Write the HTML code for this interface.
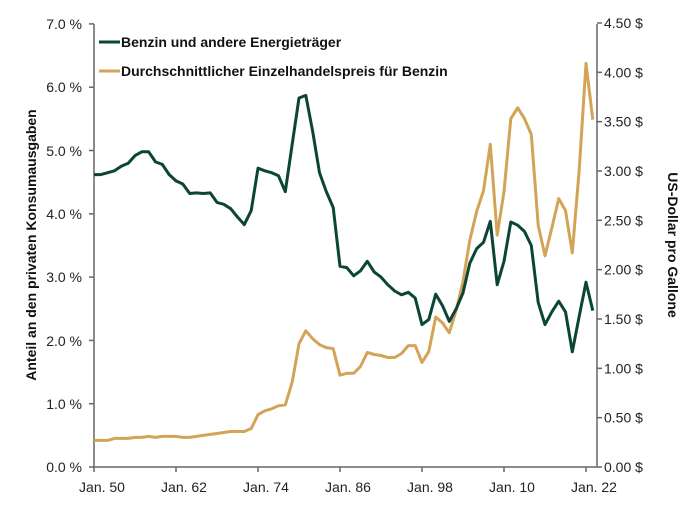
<!DOCTYPE html>
<html><head><meta charset="utf-8"><style>
body{margin:0;background:#fff;}
svg text{font-family:"Liberation Sans",Arial,sans-serif;}
</style></head><body>
<svg id="c" width="698" height="506" xmlns="http://www.w3.org/2000/svg">
<g font-size="14" fill="#222">
<text x="82" y="29" text-anchor="end">7.0 %</text>
<text x="82" y="92" text-anchor="end">6.0 %</text>
<text x="82" y="156" text-anchor="end">5.0 %</text>
<text x="82" y="219" text-anchor="end">4.0 %</text>
<text x="82" y="282" text-anchor="end">3.0 %</text>
<text x="82" y="346" text-anchor="end">2.0 %</text>
<text x="82" y="409" text-anchor="end">1.0 %</text>
<text x="82" y="472" text-anchor="end">0.0 %</text>
</g>
<g font-size="14" fill="#222" id="rl"></g>
<g font-size="14" fill="#222" id="xl"></g>
<text transform="translate(36,245) rotate(-90)" text-anchor="middle" font-size="14" font-weight="bold" fill="#111">Anteil an den privaten Konsumausgaben</text>
<text transform="translate(668,245) rotate(90)" text-anchor="middle" font-size="14" font-weight="bold" fill="#111">US-Dollar pro Gallone</text>
<g stroke="#666" stroke-width="1.5" fill="none" id="ax">
<line x1="94" y1="24" x2="94" y2="467"/>
<line x1="597" y1="24" x2="597" y2="467"/>
<line x1="94" y1="467" x2="597" y2="467"/>
</g>
<polyline id="gold" fill="none" stroke="#d3a458" stroke-width="3" stroke-linejoin="round"/>
<polyline id="green" fill="none" stroke="#0b4535" stroke-width="3" stroke-linejoin="round"/>
<line x1="99" y1="42" x2="120" y2="42" stroke="#0b4535" stroke-width="3"/>
<text x="121" y="47" font-size="14" font-weight="bold" fill="#111">Benzin und andere Energieträger</text>
<line x1="99" y1="71" x2="120" y2="71" stroke="#d3a458" stroke-width="3"/>
<text x="121" y="76" font-size="14" font-weight="bold" fill="#111">Durchschnittlicher Einzelhandelspreis für Benzin</text>
</svg>
<script>
var g=[4.62,4.62,4.65,4.68,4.75,4.8,4.92,4.98,4.98,4.82,4.78,4.62,4.52,4.47,4.32,4.33,4.32,4.33,4.18,4.15,4.08,3.95,3.83,4.05,4.72,4.68,4.65,4.6,4.35,5.1,5.83,5.87,5.3,4.65,4.35,4.1,3.17,3.15,3.02,3.1,3.25,3.08,3.0,2.88,2.78,2.72,2.76,2.67,2.25,2.33,2.73,2.55,2.3,2.5,2.75,3.22,3.45,3.55,3.88,2.88,3.25,3.87,3.82,3.72,3.5,2.6,2.25,2.45,2.62,2.45,1.82,2.38,2.92,2.47];
var d=[0.27,0.27,0.27,0.29,0.29,0.29,0.30,0.30,0.31,0.30,0.31,0.31,0.31,0.30,0.30,0.31,0.32,0.33,0.34,0.35,0.36,0.36,0.36,0.39,0.53,0.57,0.59,0.62,0.63,0.86,1.25,1.38,1.30,1.24,1.21,1.20,0.93,0.95,0.95,1.02,1.16,1.14,1.13,1.11,1.11,1.15,1.23,1.23,1.06,1.17,1.52,1.46,1.36,1.59,1.88,2.30,2.59,2.80,3.27,2.35,2.79,3.53,3.64,3.53,3.37,2.45,2.14,2.42,2.72,2.60,2.17,3.01,4.09,3.52];
function X(i){return 94+i*82/12;}
document.getElementById('green').setAttribute('points',g.map(function(v,i){return X(i).toFixed(1)+','+(467-v*63.3).toFixed(1)}).join(' '));
document.getElementById('gold').setAttribute('points',d.map(function(v,i){return X(i).toFixed(1)+','+(467-v*98.67).toFixed(1)}).join(' '));
var ns='http://www.w3.org/2000/svg',rl=document.getElementById('rl'),xl=document.getElementById('xl'),ax=document.getElementById('ax');
for(var k=0;k<=9;k++){var y=467-k*0.5*98.67;var t=document.createElementNS(ns,'text');t.setAttribute('x',604);t.setAttribute('y',y+5);t.textContent=(k*0.5).toFixed(2)+' $';rl.appendChild(t);
var l=document.createElementNS(ns,'line');l.setAttribute('x1',597);l.setAttribute('x2',602);l.setAttribute('y1',y);l.setAttribute('y2',y);ax.appendChild(l);}
for(var k=0;k<=7;k++){var y=467-k*63.3;var l=document.createElementNS(ns,'line');l.setAttribute('x1',89);l.setAttribute('x2',94);l.setAttribute('y1',y);l.setAttribute('y2',y);ax.appendChild(l);}
var yrs=['50','62','74','86','98','10','22'];
for(var k=0;k<7;k++){var x=94+k*82;var t=document.createElementNS(ns,'text');t.setAttribute('x',x+8);t.setAttribute('y',492);t.setAttribute('text-anchor','middle');t.textContent='Jan. '+yrs[k];xl.appendChild(t);
var l=document.createElementNS(ns,'line');l.setAttribute('x1',x);l.setAttribute('x2',x);l.setAttribute('y1',467);l.setAttribute('y2',472);ax.appendChild(l);}
</script>
</body></html>
